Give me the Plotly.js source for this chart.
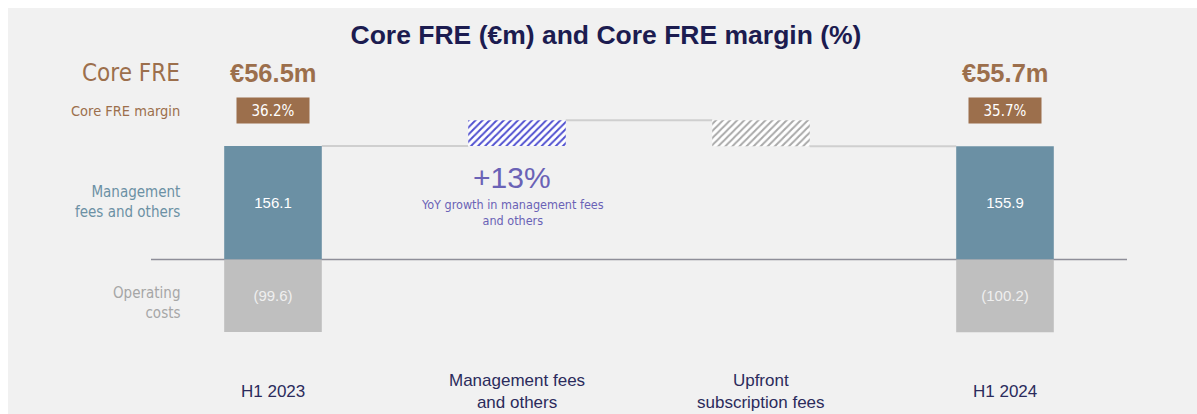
<!DOCTYPE html>
<html>
<head>
<meta charset="utf-8">
<script src="https://cdn.plot.ly/plotly-3.0.1.min.js"></script>
<style>
  html, body { margin: 0; padding: 0; background: #ffffff; }
  #chart { width: 1197px; height: 414px; }
</style>
</head>
<body>
<div id="chart"></div>
<script>
// ---- data ----
const categories = ['H1 2023', 'Management fees and others', 'Upfront subscription fees', 'H1 2024'];
const categoryLabels = ['H1 2023', 'Management fees<br>and others', 'Upfront<br>subscription fees', 'H1 2024'];
const mgmtFees = [156.1, null, null, 155.9];          // Management fees and others (€m)
const operatingCosts = [-99.6, null, null, -100.2];   // Operating costs (€m)
const bridgeDelta = [null, 35.6, -35.8, null];         // bridge movements (€m)
const coreFRE = [56.5, null, null, 55.7];              // Core FRE (€m)
const coreFREMargin = [36.2, null, null, 35.7];        // Core FRE margin (%)
const growthText = '+13%';
const growthSub = 'YoY growth in management fees<br>and others';
const rowLabels = ['Core FRE', 'Core FRE margin', 'Management<br>fees and others', 'Operating<br>costs'];

// ---- styling ----
const NARROW = '"DejaVu Sans Condensed", "Liberation Sans Narrow", sans-serif';
const SANS = '"Liberation Sans", Arial, sans-serif';
const BROWN = '#9c6f4c';
const BLUE = '#6b90a4';
const GREY = '#bfbfbf';
const PURPLE = '#6a62b6';
const NAVY = '#2b2b5c';

const idx = categories.map((_, i) => i);

const pickIdx = arr => idx.filter(i => arr[i] !== null);
const mgmtIdx = pickIdx(mgmtFees);
const costIdx = pickIdx(operatingCosts);

const traces = [];
traces.push({
  type: 'bar', x: mgmtIdx, y: mgmtIdx.map(i => mgmtFees[i]),
  width: 0.4, marker: {color: BLUE, line: {width: 0}},
  text: mgmtIdx.map(i => mgmtFees[i].toFixed(1)),
  textposition: 'inside', insidetextanchor: 'middle',
  textfont: {family: SANS, size: 15, color: '#ffffff'},
  hoverinfo: 'skip', showlegend: false
});
traces.push({
  type: 'bar', x: costIdx, y: costIdx.map(i => operatingCosts[i]),
  width: 0.4, marker: {color: GREY, line: {width: 0}},
  text: costIdx.map(i => '(' + Math.abs(operatingCosts[i]).toFixed(1) + ')'),
  textposition: 'inside', insidetextanchor: 'middle',
  textfont: {family: SANS, size: 15, color: '#efefef'},
  hoverinfo: 'skip', showlegend: false
});

// Bridge bars (floating, hatched)
let level = mgmtFees[0];
const levels = [level];
const hatchColors = ['#5050d0', '#a9a9a9'];
let hc = 0;
idx.forEach(i => {
  if (bridgeDelta[i] === null) return;
  traces.push({
    type: 'bar', x: [i], y: [bridgeDelta[i]], base: [level],
    width: 0.4,
    marker: {color: '#ffffff', line: {width: 0},
      pattern: {shape: '/', fgcolor: hatchColors[hc], bgcolor: '#ffffff', size: 5, solidity: 0.4}},
    hoverinfo: 'skip', showlegend: false
  });
  hc++;
  level = level + bridgeDelta[i];
  levels.push(level);
});

// connectors
const shapes = [];
for (let k = 0; k < levels.length; k++) {
  shapes.push({type: 'line', xref: 'x', yref: 'y', x0: k + 0.2, x1: k + 0.8,
    y0: levels[k], y1: levels[k], line: {color: '#cfcfcf', width: 2}, layer: 'below'});
}
// zero line
shapes.push({type: 'line', xref: 'x', yref: 'y', x0: -0.5, x1: categories.length - 0.5,
  y0: 0, y1: 0, line: {color: '#8e8e99', width: 1.5}, layer: 'below'});

// annotations
const ann = [];
const pY = px => (414 - px) / 406;     // paper y from pixel row
idx.forEach(i => ann.push({x: i, xref: 'x', y: pY(391), yref: 'paper', yanchor: 'middle',
  text: categoryLabels[i], showarrow: false, align: 'center',
  font: {family: SANS, size: 17, color: NAVY}}));
idx.forEach(i => {
  if (coreFRE[i] === null) return;
  ann.push({x: i, xref: 'x', y: pY(73), yref: 'paper', yanchor: 'middle',
    text: '€' + coreFRE[i].toFixed(1) + 'm', showarrow: false,
    font: {family: SANS, size: 25.5, color: BROWN, weight: 'bold'}});
  ann.push({x: i, xref: 'x', y: pY(110.5), yref: 'paper', yanchor: 'middle',
    text: coreFREMargin[i].toFixed(1) + '%', showarrow: false,
    width: 72, height: 25, bgcolor: BROWN, borderpad: 0,
    font: {family: NARROW, size: 15, color: '#ffffff'}});
});
const rowX = (182 - 8) / 1189;
ann.push({x: rowX, xref: 'paper', y: pY(73), yref: 'paper', xanchor: 'right', yanchor: 'middle',
  text: rowLabels[0], showarrow: false, align: 'right',
  font: {family: NARROW, size: 24, color: BROWN}});
ann.push({x: rowX, xref: 'paper', y: pY(111), yref: 'paper', xanchor: 'right', yanchor: 'middle',
  text: rowLabels[1], showarrow: false, align: 'right',
  font: {family: NARROW, size: 14.5, color: BROWN}});
ann.push({x: rowX, xref: 'paper', y: pY(202), yref: 'paper', xanchor: 'right', yanchor: 'middle',
  text: rowLabels[2], showarrow: false, align: 'right',
  font: {family: NARROW, size: 15, color: BLUE}});
ann.push({x: rowX, xref: 'paper', y: pY(303), yref: 'paper', xanchor: 'right', yanchor: 'middle',
  text: rowLabels[3], showarrow: false, align: 'right',
  font: {family: NARROW, size: 15, color: '#a6a6a6'}});
ann.push({x: 1, xref: 'x', xshift: -5, y: pY(177), yref: 'paper', yanchor: 'middle',
  text: growthText, showarrow: false,
  font: {family: SANS, size: 30, color: PURPLE}});
ann.push({x: 1, xref: 'x', xshift: -5, y: pY(212.5), yref: 'paper', yanchor: 'middle',
  text: growthSub, showarrow: false, align: 'center',
  font: {family: NARROW, size: 12.5, color: PURPLE}});

const layout = {
  width: 1197, height: 414,
  margin: {l: 8, r: 0, t: 8, b: 0, pad: 0},
  paper_bgcolor: '#ffffff', plot_bgcolor: '#f1f1f1',
  title: {text: 'Core FRE (€m) and Core FRE margin (%)', x: 606 / 1197, xanchor: 'center',
    y: 1 - 35 / 414, yanchor: 'middle', xref: 'container', yref: 'container',
    font: {family: SANS, size: 26.5, color: '#1c1c50', weight: 'bold'}},
  barmode: 'overlay',
  xaxis: {range: [-265 / 244, (1189 - 265) / 244], visible: false, fixedrange: true},
  yaxis: {range: [-212.5, 346], visible: false, fixedrange: true, zeroline: false},
  shapes: shapes, annotations: ann, showlegend: false
};

Plotly.newPlot('chart', traces, layout, {displayModeBar: false, staticPlot: true});
</script>
</body>
</html>
